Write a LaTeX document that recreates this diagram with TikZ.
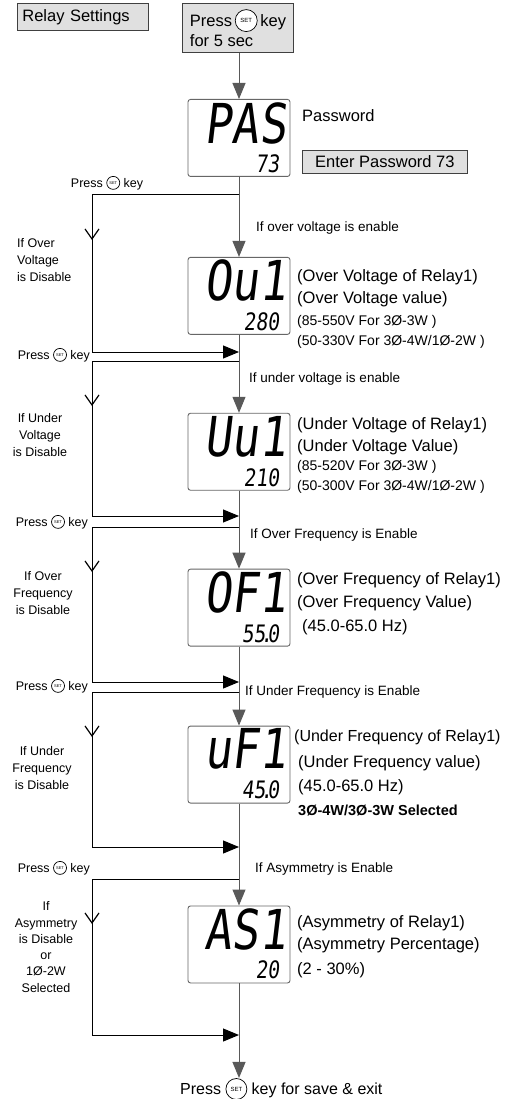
\documentclass[tikz,border=0pt]{standalone}
\usepackage{fontspec}
\setmainfont{Liberation Sans}
\newfontfamily\lcdfont[FakeSlant=0.12,FakeStretch=0.82]{DejaVu Sans Mono}
\usetikzlibrary{positioning,calc,arrows.meta,%
decorations.markings}

\newcommand{\setkey}[2]{\raisebox{\dimexpr0.33em-#1/2\relax}{\tikz\node[anchor=center,circle,draw=black,fill=white,line width=0.7pt,inner sep=0pt,minimum size=#1,font=\fontsize{#2}{#2}\selectfont]{SET};}}

\begin{document}
\begin{tikzpicture}[x=1pt,y=-1pt,
  greybox/.style={draw=black!75,fill=black!12,line width=0.8pt},
  lcdbox/.style={draw=black!60,fill=white,rounded corners=2.5pt,line width=0.9pt,minimum width=102pt,minimum height=77pt},
  lcdbig/.style={inner sep=0pt,font=\lcdfont\fontsize{55}{55}\selectfont},
  lcdsmall/.style={inner sep=0pt,font=\lcdfont\fontsize{24}{24}\selectfont},
  descline/.style={anchor=west,inner sep=0pt,font=\fontsize{16.5}{19}\selectfont},
  rangeline/.style={anchor=west,inner sep=0pt,font=\fontsize{14}{16}\selectfont},
  mainlabel/.style={anchor=west,inner sep=0pt,font=\fontsize{13.5}{15}\selectfont},
  sidelabel/.style={inner sep=0pt,align=center,font=\fontsize{12.5}{17}\selectfont},
  mainline/.style={draw=black!65,line width=1pt},
  loopline/.style={draw=black,line width=1pt},
  fillarrow/.style={-{Triangle[length=16pt,width=13pt]}},
  skiparrow/.style={postaction={decorate},decoration={markings,
    mark=at position 192pt with {\arrow{Straight Barb[length=10pt,width=14pt,line width=1.2pt]}}}}
]
  \useasboundingbox (0,0) rectangle (506,1099);

  \node[greybox,anchor=north west,minimum width=131pt,minimum height=27pt,text width=121pt,inner sep=4pt,font=\fontsize{16.5}{18}\selectfont] (relay) at (17,3) {Relay Settings};
  \node[greybox,anchor=north,minimum width=111pt,minimum height=49pt,align=left,inner sep=2pt,font=\fontsize{16.5}{20}\selectfont] (hold) at (238,3) {Press\,\setkey{22pt}{6}\,key\\for 5 sec};

  \node[lcdbox,anchor=north] (pas) at (239,99) {};
  \node[lcdbox,below=80pt of pas] (ovl) {};
  \node[lcdbox,below=78pt of ovl] (uvl) {};
  \node[lcdbox,below=78pt of uvl] (ofl) {};
  \node[lcdbox,below=79pt of ofl] (ufl) {};
  \node[lcdbox,below=102pt of ufl] (asl) {};

  \node[lcdbig,anchor=north east] (pas-big) at ([shift={(-4pt,-3pt)}]pas.north east) {PAS};
  \node[lcdsmall,anchor=south east] (pas-small) at ([shift={(-11pt,4pt)}]pas.south east) {73};
  \node[lcdbig,anchor=north east] (ovl-big) at ([shift={(-4pt,-3pt)}]ovl.north east) {Ou1};
  \node[lcdsmall,anchor=south east] (ovl-small) at ([shift={(-11pt,4pt)}]ovl.south east) {280};
  \node[lcdbig,anchor=north east] (uvl-big) at ([shift={(-4pt,-3pt)}]uvl.north east) {Uu1};
  \node[lcdsmall,anchor=south east] (uvl-small) at ([shift={(-11pt,4pt)}]uvl.south east) {210};
  \node[lcdbig,anchor=north east] (ofl-big) at ([shift={(-4pt,-3pt)}]ofl.north east) {OF1};
  \node[lcdsmall,anchor=south east] (ofl-small) at ([shift={(-11pt,4pt)}]ofl.south east) {55\kern-5pt.\kern-5pt0};
  \node[lcdbig,anchor=north east] (ufl-big) at ([shift={(-4pt,-3pt)}]ufl.north east) {uF1};
  \node[lcdsmall,anchor=south east] (ufl-small) at ([shift={(-11pt,4pt)}]ufl.south east) {45\kern-5pt.\kern-5pt0};
  \node[lcdbig,anchor=north east] (asl-big) at ([shift={(-4pt,-3pt)}]asl.north east) {AS1};
  \node[lcdsmall,anchor=south east] (asl-small) at ([shift={(-11pt,4pt)}]asl.south east) {20};

  \node[descline] (pas-t1) at (302,116) {Password};
  \node[greybox,anchor=north west,minimum width=165pt,minimum height=23pt,inner sep=0pt,font=\fontsize{16.5}{18}\selectfont] (enterpw) at (302,150) {Enter Password 73};

  \node[descline] (ovl-t1) at (297,277) {(Over Voltage of Relay1)};
  \node[descline] (ovl-t2) at (297,299) {(Over Voltage value)};
  \node[rangeline] (ovl-t3) at (297,322) {(85-550V For 3Ø-3W )};
  \node[rangeline] (ovl-t4) at (297,342) {(50-330V For 3Ø-4W/1Ø-2W )};

  \node[descline] (uvl-t1) at (297,425) {(Under Voltage of Relay1)};
  \node[descline] (uvl-t2) at (297,447) {(Under Voltage Value)};
  \node[rangeline] (uvl-t3) at (297,467) {(85-520V For 3Ø-3W )};
  \node[rangeline] (uvl-t4) at (297,487) {(50-300V For 3Ø-4W/1Ø-2W )};

  \node[descline] (ofl-t1) at (297,580) {(Over Frequency of Relay1)};
  \node[descline] (ofl-t2) at (297,603) {(Over Frequency Value)};
  \node[descline] (ofl-t3) at (302,627) {(45.0-65.0 Hz)};

  \node[descline,font=\fontsize{16}{19}\selectfont] (ufl-t1) at (294,737) {(Under Frequency of Relay1)};
  \node[descline] (ufl-t2) at (298,763) {(Under Frequency value)};
  \node[descline] (ufl-t3) at (298,787) {(45.0-65.0 Hz)};
  \node[rangeline,font=\bfseries\fontsize{14.5}{16}\selectfont] (ufl-t4) at (298,810) {3Ø-4W/3Ø-3W Selected};

  \node[descline] (asl-t1) at (297,923) {(Asymmetry of Relay1)};
  \node[descline] (asl-t2) at (297,945) {(Asymmetry Percentage)};
  \node[descline] (asl-t3) at (297,970) {(2 - 30\%)};

  \node[mainlabel] (ovl-if) at (256,228) {If over voltage is enable};
  \node[mainlabel] (uvl-if) at (249,379) {If under voltage is enable};
  \node[mainlabel] (ofl-if) at (250,535) {If Over Frequency is Enable};
  \node[mainlabel] (ufl-if) at (245,692) {If Under Frequency is Enable};
  \node[mainlabel] (asl-if) at (255,869) {If Asymmetry is Enable};

  \node[sidelabel] (press1) at (107,183) {Press \setkey{13pt}{4} key};
  \node[sidelabel,anchor=east] (press2) at (90,355) {Press \setkey{13pt}{4} key};
  \node[sidelabel,anchor=east] (press3) at (88,522) {Press \setkey{13pt}{4} key};
  \node[sidelabel,anchor=east] (press4) at (88,686) {Press \setkey{13pt}{4} key};
  \node[sidelabel,anchor=east] (press5) at (90,868) {Press \setkey{13pt}{4} key};

  \node[sidelabel,align=left,anchor=west] (skip1) at (17,260) {If Over\\Voltage\\is Disable};
  \node[sidelabel] (skip2) at (40,435) {If Under\\Voltage\\is Disable};
  \node[sidelabel] (skip3) at (43,593) {If Over\\Frequency\\is Disable};
  \node[sidelabel] (skip4) at (42,768) {If Under\\Frequency\\is Disable};
  \node[sidelabel,font=\fontsize{12.5}{16.3}\selectfont] (skip5) at (46,947) {If\\Asymmetry\\is Disable\\or\\1Ø-2W\\Selected};

  \node[anchor=west,inner sep=0pt,font=\fontsize{16}{18}\selectfont] (exit) at (180,1089) {Press \setkey{21pt}{6} key for save \& exit};

  \coordinate (o1) at (pas.south |- 0,195);
  \coordinate (i1) at (pas.south |- 0,352);
  \coordinate (o2) at (pas.south |- 0,361);
  \coordinate (i2) at (pas.south |- 0,516);
  \coordinate (o3) at (pas.south |- 0,527);
  \coordinate (i3) at (pas.south |- 0,682);
  \coordinate (o4) at (pas.south |- 0,692);
  \coordinate (i4) at (pas.south |- 0,847);
  \coordinate (o5) at (pas.south |- 0,879);
  \coordinate (i5) at (pas.south |- 0,1035);
  \coordinate (e1) at (asl.south |- exit.north);

  \draw[mainline,fillarrow] (hold.south -| pas) -- (pas);
  \draw[mainline,fillarrow] (pas) -- (ovl);
  \draw[mainline,fillarrow] (ovl) -- (uvl);
  \draw[mainline,fillarrow] (uvl) -- (ofl);
  \draw[mainline,fillarrow] (ofl) -- (ufl);
  \draw[mainline,fillarrow] (ufl) -- (asl);
  \draw[mainline,fillarrow] (asl) -- (e1);

  \foreach \n in {1,...,5}
    \draw[loopline,skiparrow,fillarrow] (o\n) -- (92,0 |- o\n) -- (92,0 |- i\n) -- (i\n);
\end{tikzpicture}
\end{document}
